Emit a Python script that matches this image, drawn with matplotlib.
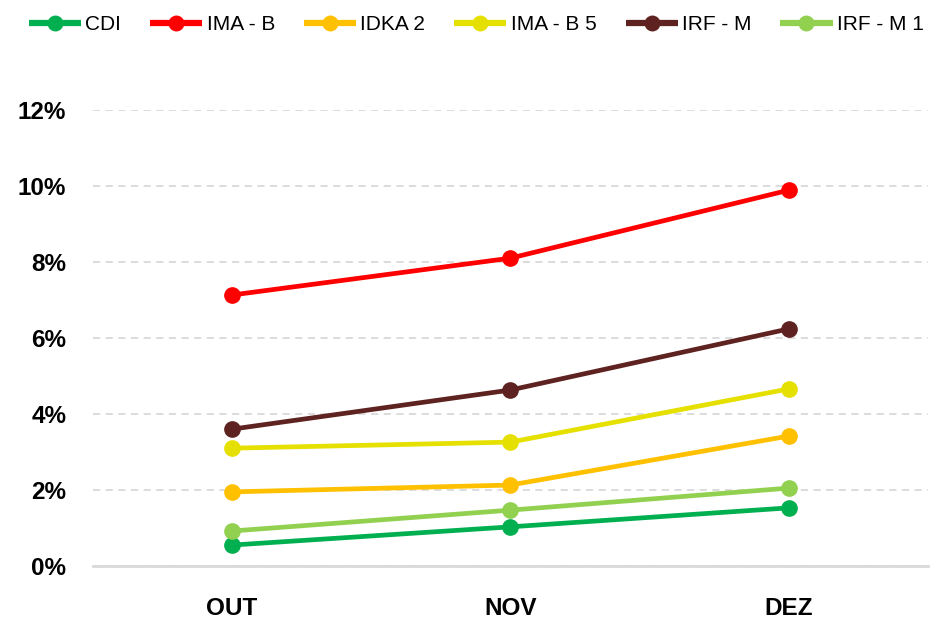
import matplotlib.pyplot as plt
from matplotlib.ticker import FuncFormatter

plt.rcParams['font.family'] = ['Liberation Sans', 'DejaVu Sans']

meses = ['OUT', 'NOV', 'DEZ']
cdi = [0.55, 1.03, 1.53]
ima_b = [7.13, 8.10, 9.89]
idka_2 = [1.95, 2.13, 3.42]
ima_b5 = [3.10, 3.26, 4.66]
irf_m = [3.60, 4.63, 6.24]
irf_m1 = [0.92, 1.47, 2.05]

series = [('CDI', cdi, '#00b050'),
          ('IMA - B', ima_b, '#ff0000'),
          ('IDKA 2', idka_2, '#ffc000'),
          ('IMA - B 5', ima_b5, '#e6e000'),
          ('IRF - M', irf_m, '#5e2320'),
          ('IRF - M 1', irf_m1, '#92d050')]

fig = plt.figure(figsize=(9.3, 6.23), dpi=100)
ax = fig.add_axes([0.0995, 0.0915, 0.8985, 0.732])

x = range(len(meses))
for nome, vals, cor in series:
    ax.plot(x, vals, color=cor, lw=3.4, marker='o', ms=11, label=nome,
            solid_capstyle='round')

ax.set_xlim(-0.5, 2.5)
ax.set_ylim(0, 12)
ax.set_yticks([0, 2, 4, 6, 8, 10, 12])
ax.yaxis.set_major_formatter(FuncFormatter(lambda v, p: '%d%%' % v))
ax.set_xticks(list(x))
ax.set_xticklabels(meses)
for lab in ax.get_xticklabels() + ax.get_yticklabels():
    lab.set_fontweight('bold')
    lab.set_fontsize(17.5)
ax.tick_params(length=0)
ax.tick_params(axis='x', pad=22)
ax.tick_params(axis='y', pad=19)

ax.grid(axis='y', color='#d9d9d9', ls=(0, (4, 3)), lw=1.3)
ax.set_axisbelow(True)
for s in ['top', 'right', 'left']:
    ax.spines[s].set_visible(False)
ax.spines['bottom'].set_color('#d9d9d9')
ax.spines['bottom'].set_linewidth(2)

leg = fig.legend(loc='upper left', bbox_to_anchor=(0.011, 1.006), ncol=6, frameon=False,
                 fontsize=15, handlelength=2.5, handletextpad=0.2, columnspacing=1.4,
                 markerscale=0.95)
for ln in leg.get_lines():
    ln.set_linewidth(4.5)
    ln.set_solid_capstyle('butt')

plt.savefig('out.png', dpi=100)
